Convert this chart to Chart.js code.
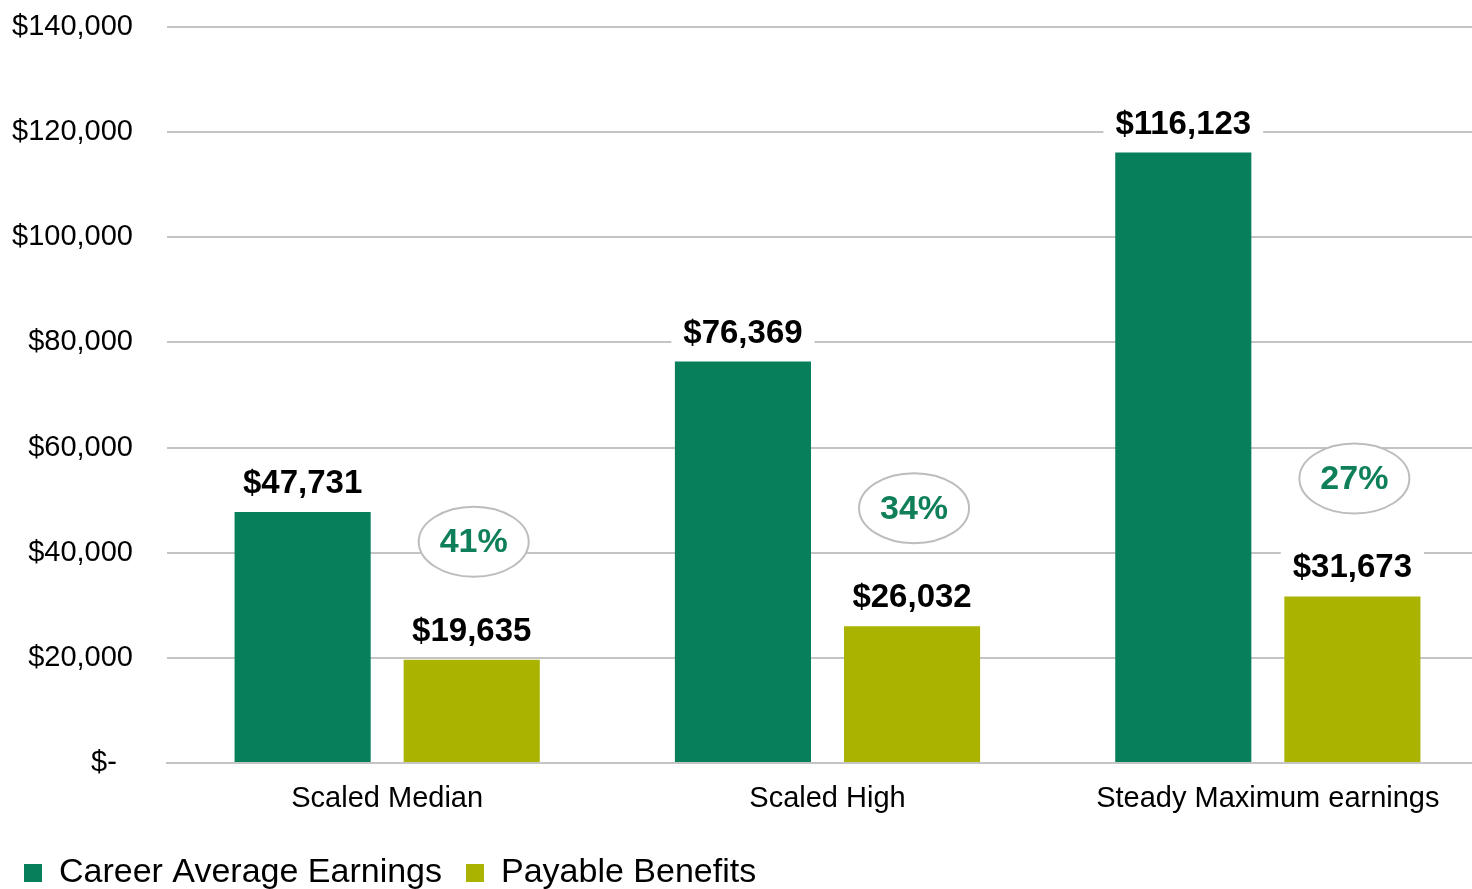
<!DOCTYPE html>
<html>
<head>
<meta charset="utf-8">
<script src="https://cdn.jsdelivr.net/npm/chart.js@4.4.1/dist/chart.umd.min.js"></script>
<style>
    html, body { margin: 0; padding: 0; background: #fff; overflow: hidden; }
    #wrap { width: 1488px; height: 900px; }
</style>
</head>
<body>
<div id="wrap"><canvas id="chart" width="1488" height="900"></canvas></div>
<script>
let categories = ['Scaled Median', 'Scaled High', 'Steady Maximum earnings'];
let careerEarnings = [47731, 76369, 116123];
let payableBenefits = [19635, 26032, 31673];
let replacementRates = ['41%', '34%', '27%'];
let yTicks = [0, 20000, 40000, 60000, 80000, 100000, 120000, 140000];

const FONT = "Arial, 'Liberation Sans', sans-serif";
const GREEN = '#067F5A';
const OLIVE = '#AAB400';
const GRID = '#C4C4C4';

function money(v) {
    return '$' + v.toLocaleString('en-US');
}

// value labels with a white box (hides gridlines) + ratio bubbles
const labelPlugin = {
    id: 'labelPlugin',
    afterDatasetsDraw(chart) {
        let ctx = chart.ctx;
        ctx.save();
        ctx.font = 'bold 33px ' + FONT;
        ctx.textAlign = 'center';
        ctx.textBaseline = 'alphabetic';
        chart.data.datasets.forEach((ds, di) => {
            let meta = chart.getDatasetMeta(di);
            meta.data.forEach((bar, i) => {
                let txt = money(ds.data[i]);
                let w = ctx.measureText(txt).width;
                let base = bar.y - 19;
                ctx.fillStyle = '#fff';
                ctx.fillRect(bar.x - w / 2 - 12, base - 30, w + 24, 38);
                ctx.fillStyle = '#000';
                ctx.fillText(txt, bar.x, base);
            });
        });

        // ellipses above the benefit bars
        let meta = chart.getDatasetMeta(1);
        meta.data.forEach((bar, i) => {
            let cx = bar.x + 2;
            let cy = bar.y - 118;
            ctx.beginPath();
            ctx.ellipse(cx, cy, 55, 35, 0, 0, Math.PI * 2);
            ctx.fillStyle = '#fff';
            ctx.fill();
            ctx.lineWidth = 2;
            ctx.strokeStyle = '#BDBDBD';
            ctx.stroke();
            ctx.fillStyle = '#0E7F5A';
            ctx.font = 'bold 34px ' + FONT;
            ctx.textBaseline = 'middle';
            ctx.fillText(replacementRates[i], cx, cy + 1);
        });
        ctx.restore();
    }
};

new Chart(document.getElementById('chart'), {
    type: 'bar',
    data: {
        labels: categories,
        datasets: [
            {
                label: 'Career Average Earnings',
                data: careerEarnings,
                backgroundColor: GREEN,
                categoryPercentage: 0.768,
                barPercentage: 0.805
            },
            {
                label: 'Payable Benefits',
                data: payableBenefits,
                backgroundColor: OLIVE,
                categoryPercentage: 0.768,
                barPercentage: 0.805
            }
        ]
    },
    options: {
        responsive: false,
        animation: false,
        devicePixelRatio: 1,
        layout: { padding: { top: 27, left: 0, right: 0, bottom: 0 } },
        plugins: {
            tooltip: { enabled: false },
            legend: {
                position: 'bottom',
                align: 'start',
                labels: {
                    boxWidth: 18,
                    boxHeight: 18,
                    padding: 24,
                    color: '#000',
                    font: { family: FONT, size: 34 }
                }
            }
        },
        scales: {
            x: {
                grid: { display: false },
                border: { display: true, color: GRID, width: 2 },
                ticks: {
                    color: '#000',
                    padding: 11,
                    maxRotation: 0,
                    font: { family: FONT, size: 29 }
                },
                afterFit(scale) { scale.height = 69; }
            },
            y: {
                min: 0,
                max: 140000,
                afterBuildTicks(scale) {
                    scale.ticks = yTicks.map(v => ({ value: v }));
                },
                grid: { color: GRID, lineWidth: 2, drawTicks: false },
                border: { display: false },
                ticks: {
                    color: '#000',
                    padding: 34,
                    font: { family: FONT, size: 29 },
                    callback: v => v === 0 ? '$-  ' : money(v)
                },
                afterFit(scale) {
                    scale.width = 167;
                    scale.paddingTop = 0;
                    scale.paddingBottom = 0;
                }
            }
        }
    },
    plugins: [labelPlugin]
});
</script>
</body>
</html>
